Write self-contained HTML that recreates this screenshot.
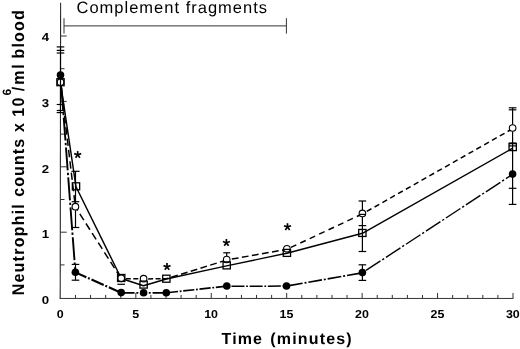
<!DOCTYPE html>
<html><head><meta charset="utf-8"><title>Neutrophil counts</title>
<style>html,body{margin:0;padding:0;background:#fff;}svg{display:block;will-change:transform;}text{text-rendering:geometricPrecision;font-family:"Liberation Sans",sans-serif;fill:#000;}</style>
</head><body>
<svg width="520" height="349" viewBox="0 0 520 349">
<rect width="520" height="349" fill="#fff"/>
<g stroke="#333" stroke-width="1" fill="none" stroke-linecap="butt">
<line x1="60.6" y1="2.8" x2="60.2" y2="298.95" stroke-width="1.1" stroke="#2a2a2a"/>
<line x1="59.8" y1="298.45" x2="513.3" y2="298.45"/>
<line x1="60.1" y1="264.9" x2="64.5" y2="264.9"/>
<line x1="60.1" y1="232.2" x2="66.7" y2="232.2"/>
<line x1="60.1" y1="199.5" x2="64.5" y2="199.5"/>
<line x1="60.1" y1="166.8" x2="66.7" y2="166.8"/>
<line x1="60.1" y1="134.1" x2="64.5" y2="134.1"/>
<line x1="60.1" y1="101.4" x2="66.7" y2="101.4"/>
<line x1="60.1" y1="68.7" x2="64.5" y2="68.7"/>
<line x1="60.1" y1="36" x2="66.7" y2="36"/>
<line x1="75.49" y1="298.45" x2="75.49" y2="294.95"/>
<line x1="90.57" y1="298.45" x2="90.57" y2="294.95"/>
<line x1="105.66" y1="298.45" x2="105.66" y2="294.95"/>
<line x1="120.75" y1="298.45" x2="120.75" y2="294.95"/>
<line x1="135.84" y1="298.45" x2="135.84" y2="292.95"/>
<line x1="150.92" y1="298.45" x2="150.92" y2="294.95"/>
<line x1="166.01" y1="298.45" x2="166.01" y2="294.95"/>
<line x1="181.1" y1="298.45" x2="181.1" y2="294.95"/>
<line x1="196.18" y1="298.45" x2="196.18" y2="294.95"/>
<line x1="211.27" y1="298.45" x2="211.27" y2="292.95"/>
<line x1="226.36" y1="298.45" x2="226.36" y2="294.95"/>
<line x1="241.44" y1="298.45" x2="241.44" y2="294.95"/>
<line x1="256.53" y1="298.45" x2="256.53" y2="294.95"/>
<line x1="271.62" y1="298.45" x2="271.62" y2="294.95"/>
<line x1="286.7" y1="298.45" x2="286.7" y2="292.95"/>
<line x1="301.79" y1="298.45" x2="301.79" y2="294.95"/>
<line x1="316.88" y1="298.45" x2="316.88" y2="294.95"/>
<line x1="331.97" y1="298.45" x2="331.97" y2="294.95"/>
<line x1="347.05" y1="298.45" x2="347.05" y2="294.95"/>
<line x1="362.14" y1="298.45" x2="362.14" y2="292.95"/>
<line x1="377.23" y1="298.45" x2="377.23" y2="294.95"/>
<line x1="392.31" y1="298.45" x2="392.31" y2="294.95"/>
<line x1="407.4" y1="298.45" x2="407.4" y2="294.95"/>
<line x1="422.49" y1="298.45" x2="422.49" y2="294.95"/>
<line x1="437.57" y1="298.45" x2="437.57" y2="292.95"/>
<line x1="452.66" y1="298.45" x2="452.66" y2="294.95"/>
<line x1="467.75" y1="298.45" x2="467.75" y2="294.95"/>
<line x1="482.84" y1="298.45" x2="482.84" y2="294.95"/>
<line x1="497.92" y1="298.45" x2="497.92" y2="294.95"/>
<line x1="513.01" y1="298.45" x2="513.01" y2="292.95"/>
<line x1="64" y1="25.9" x2="286.4" y2="25.9"/>
<line x1="64" y1="18.2" x2="64" y2="33.6"/>
<line x1="286.4" y1="18.2" x2="286.4" y2="33.6"/>
</g>
<g font-size="11.5" font-weight="bold" text-anchor="end">
<text transform="translate(49.2 303.7) scale(1.15 1)">0</text>
<text transform="translate(49.2 238.3) scale(1.15 1)">1</text>
<text transform="translate(49.2 173.0) scale(1.15 1)">2</text>
<text transform="translate(49.2 107.4) scale(1.15 1)">3</text>
<text transform="translate(49.2 41.1) scale(1.15 1)">4</text>
</g>
<g font-size="11.5" font-weight="bold" text-anchor="middle">
<text transform="translate(60.2 318.1) scale(1.08 1)">0</text>
<text transform="translate(135.64 318.1) scale(1.08 1)">5</text>
<text transform="translate(211.07 318.1) scale(1.08 1)">10</text>
<text transform="translate(286.5 318.1) scale(1.08 1)">15</text>
<text transform="translate(361.94 318.1) scale(1.08 1)">20</text>
<text transform="translate(437.38 318.1) scale(1.08 1)">25</text>
<text transform="translate(512.81 318.1) scale(1.08 1)">30</text>
</g>
<text x="76.5" y="13.2" font-size="16.5" textLength="190.5" lengthAdjust="spacing">Complement fragments</text>
<g font-size="16" font-weight="bold">
<text x="221.5" y="344.2" textLength="40.5" lengthAdjust="spacing">Time</text>
<text x="270.3" y="344.2" textLength="81.3" lengthAdjust="spacing">(minutes)</text>
</g>
<g font-weight="bold">
<text transform="translate(23.9 295.3) rotate(-90) scale(1 1.06)" font-size="16" textLength="91.1" lengthAdjust="spacing">Neutrophil</text>
<text transform="translate(23.9 196.8) rotate(-90) scale(1 1.06)" font-size="16" textLength="57.9" lengthAdjust="spacing">counts</text>
<text transform="translate(23.9 132) rotate(-90) scale(1 1.06)" font-size="16" textLength="9.25" lengthAdjust="spacing">x</text>
<text transform="translate(23.9 116.7) rotate(-90) scale(1 1.06)" font-size="16" textLength="19.2" lengthAdjust="spacing">10</text>
<text transform="translate(11.1 95.6) rotate(-90) scale(1 1.0)" font-size="12" textLength="7" lengthAdjust="spacing">6</text>
<text transform="translate(23.9 91.2) rotate(-90) scale(1 1.06)" font-size="16" textLength="27" lengthAdjust="spacing">/ml</text>
<text transform="translate(23.9 58.6) rotate(-90) scale(1 1.06)" font-size="16" textLength="48.4" lengthAdjust="spacing">blood</text>
</g>
<g fill="none" stroke="#000" stroke-linejoin="round">
<line x1="60.5" y1="75" x2="75.4" y2="272.4" stroke-width="1.9" stroke-dasharray="23 2.3 2.4 2.3" stroke-dashoffset="17.3"/>
<line x1="75.4" y1="272.4" x2="121.2" y2="292.8" stroke-width="2.1" stroke-dasharray="13.4 1.8 1.9 1.9" stroke-dashoffset="1.4"/>
<line x1="121.2" y1="292.8" x2="143.6" y2="292.9" stroke-width="1.8" stroke-dasharray="13.4 1.8 1.9 1.9" stroke-dashoffset="0"/>
<line x1="143.6" y1="292.9" x2="166.3" y2="292.8" stroke-width="1.8" stroke-dasharray="13.4 1.8 1.9 1.9" stroke-dashoffset="10"/>
<line x1="166.3" y1="292.8" x2="226.8" y2="286.2" stroke-width="1.7" stroke-dasharray="11.2 1.7 1.8 1.7" stroke-dashoffset="15.8"/>
<line x1="226.8" y1="286.2" x2="286.5" y2="286.1" stroke-width="1.5" stroke-dasharray="13 1.7 1.8 1.7" stroke-dashoffset="13.55"/>
<line x1="286.5" y1="286.1" x2="362.4" y2="272.8" stroke-width="1.7" stroke-dasharray="13.8 1.9 2 1.9" stroke-dashoffset="17"/>
<line x1="362.4" y1="272.8" x2="512.6" y2="174.3" stroke-width="1.4" stroke-dasharray="17.3 2.1 2.3 2.2" stroke-dashoffset="19.6"/>
<polyline points="60.5,82.5 76,186.8 121.3,278.5 143.5,285.7 166.35,279 226.6,265.9 286.9,253.2 362.4,233.3 512.7,148.2" stroke-width="1.45"/>
<line x1="60.5" y1="82" x2="75.4" y2="207" stroke-width="1.5" stroke-dasharray="7.4 4" stroke-dashoffset="0"/>
<line x1="75.4" y1="207" x2="121.3" y2="278.7" stroke-width="1.5" stroke-dasharray="7.4 4" stroke-dashoffset="3.2"/>
<line x1="121.3" y1="278.7" x2="143.6" y2="278.9" stroke-width="1.5" stroke-dasharray="5 2.5" stroke-dashoffset="3"/>
<line x1="143.6" y1="278.9" x2="166.3" y2="278.8" stroke-width="1.5" stroke-dasharray="5 2.5" stroke-dashoffset="3"/>
<line x1="166.3" y1="278.8" x2="226.7" y2="260" stroke-width="1.5" stroke-dasharray="6.8 3.4" stroke-dashoffset="5"/>
<line x1="226.7" y1="260" x2="286.9" y2="249.3" stroke-width="1.5" stroke-dasharray="6.8 3.4" stroke-dashoffset="5"/>
<line x1="286.9" y1="249.3" x2="362.4" y2="213.9" stroke-width="1.5" stroke-dasharray="6 4.4" stroke-dashoffset="6"/>
<line x1="362.4" y1="213.9" x2="512.6" y2="128.7" stroke-width="1.5" stroke-dasharray="5.4 3.6" stroke-dashoffset="4"/>
</g>
<g stroke="#000" stroke-width="1.1" fill="#fff">
<circle cx="60.5" cy="82.2" r="3.3"/>
<circle cx="75.4" cy="206.7" r="3.3"/>
<circle cx="121.2" cy="278.3" r="3.3"/>
<circle cx="143.6" cy="278.7" r="3.3"/>
<circle cx="226.7" cy="259.5" r="3.3"/>
<circle cx="286.9" cy="248.8" r="3.3"/>
<circle cx="362.4" cy="213.4" r="3.3"/>
<circle cx="512.6" cy="128" r="3.3"/>
</g>
<g stroke="#000" stroke-width="1.2" fill="none">
<line x1="60.5" y1="46.9" x2="60.5" y2="113"/>
<line x1="56.7" y1="46.9" x2="64.3" y2="46.9"/>
<line x1="56.7" y1="50.4" x2="64.3" y2="50.4"/>
<line x1="56.7" y1="53" x2="64.3" y2="53"/>
<line x1="56.7" y1="104.5" x2="64.3" y2="104.5"/>
<line x1="56.7" y1="110.5" x2="64.3" y2="110.5"/>
<line x1="56.7" y1="112.6" x2="64.3" y2="112.6"/>
<line x1="75.5" y1="171.3" x2="75.5" y2="203"/>
<line x1="75.5" y1="210.2" x2="75.5" y2="227.5"/>
<line x1="71.4" y1="171.3" x2="79.6" y2="171.3"/>
<line x1="71.7" y1="201.7" x2="79.3" y2="201.7"/>
<line x1="71.7" y1="227.5" x2="79.3" y2="227.5"/>
<line x1="75.5" y1="264.4" x2="75.5" y2="280.2"/>
<line x1="71.7" y1="264.4" x2="79.3" y2="264.4"/>
<line x1="71.7" y1="280.2" x2="79.3" y2="280.2"/>
<line x1="117.4" y1="284.3" x2="125" y2="284.3"/>
<line x1="226.7" y1="252.8" x2="226.7" y2="256"/>
<line x1="223.2" y1="252.8" x2="230.2" y2="252.8"/>
<line x1="362.4" y1="201" x2="362.4" y2="209.9"/>
<line x1="362.4" y1="216.9" x2="362.4" y2="251.5"/>
<line x1="358.6" y1="201" x2="366.2" y2="201"/>
<line x1="359.4" y1="214.4" x2="365.4" y2="214.4"/>
<line x1="358.6" y1="225.6" x2="366.2" y2="225.6"/>
<line x1="358.6" y1="251.5" x2="366.2" y2="251.5"/>
<line x1="362.4" y1="264.8" x2="362.4" y2="280.4"/>
<line x1="358.6" y1="264.8" x2="366.2" y2="264.8"/>
<line x1="358.6" y1="280.4" x2="366.2" y2="280.4"/>
<line x1="512.6" y1="107.8" x2="512.6" y2="124.5"/>
<line x1="512.6" y1="131.5" x2="512.6" y2="204.4"/>
<line x1="508.8" y1="107.8" x2="516.4" y2="107.8"/>
<line x1="508.8" y1="109.8" x2="516.4" y2="109.8"/>
<line x1="508.8" y1="145.9" x2="516.4" y2="145.9"/>
<line x1="508.8" y1="188.3" x2="516.4" y2="188.3"/>
<line x1="508.8" y1="204.4" x2="516.4" y2="204.4"/>
<line x1="508.8" y1="143" x2="516.4" y2="143"/>
</g>
<g stroke="#000" stroke-width="1.3" fill="none">
<rect x="56.85" y="78.7" width="7.3" height="7.0"/>
<rect x="72.35" y="182.8" width="7.3" height="7.0"/>
<rect x="117.55" y="274.5" width="7.3" height="7.0"/>
<rect x="139.95" y="281.1" width="7.3" height="7.0"/>
<rect x="162.7" y="275.2" width="7.3" height="7.0"/>
<rect x="223.05" y="261.9" width="7.3" height="7.0"/>
<rect x="283.25" y="249.4" width="7.3" height="7.0"/>
<rect x="358.7" y="229.45" width="7.3" height="7.0"/>
<rect x="509.05" y="143.6" width="7.3" height="7.0"/>
</g>
<g fill="#000">
<circle cx="60.5" cy="75" r="3.8"/>
<circle cx="75.4" cy="272.2" r="3.8"/>
<circle cx="121.2" cy="292.6" r="3.8"/>
<circle cx="143.6" cy="292.8" r="3.8"/>
<circle cx="166.3" cy="292.7" r="3.8"/>
<circle cx="226.8" cy="286" r="3.8"/>
<circle cx="286.5" cy="286" r="3.8"/>
<circle cx="362.4" cy="272.6" r="3.8"/>
<circle cx="512.6" cy="174.1" r="3.8"/>
</g>
<g stroke="#000" stroke-width="1.7" stroke-linecap="butt">
<line x1="77.7" y1="154.8" x2="77.7" y2="151.1"/>
<line x1="77.7" y1="154.8" x2="81.22" y2="153.66"/>
<line x1="77.7" y1="154.8" x2="79.87" y2="157.79"/>
<line x1="77.7" y1="154.8" x2="75.53" y2="157.79"/>
<line x1="77.7" y1="154.8" x2="74.18" y2="153.66"/>
<line x1="167" y1="266.8" x2="167" y2="263.1"/>
<line x1="167" y1="266.8" x2="170.52" y2="265.66"/>
<line x1="167" y1="266.8" x2="169.17" y2="269.79"/>
<line x1="167" y1="266.8" x2="164.83" y2="269.79"/>
<line x1="167" y1="266.8" x2="163.48" y2="265.66"/>
<line x1="226.4" y1="242.7" x2="226.4" y2="239"/>
<line x1="226.4" y1="242.7" x2="229.92" y2="241.56"/>
<line x1="226.4" y1="242.7" x2="228.57" y2="245.69"/>
<line x1="226.4" y1="242.7" x2="224.23" y2="245.69"/>
<line x1="226.4" y1="242.7" x2="222.88" y2="241.56"/>
<line x1="287.5" y1="226.9" x2="287.5" y2="223.2"/>
<line x1="287.5" y1="226.9" x2="291.02" y2="225.76"/>
<line x1="287.5" y1="226.9" x2="289.67" y2="229.89"/>
<line x1="287.5" y1="226.9" x2="285.33" y2="229.89"/>
<line x1="287.5" y1="226.9" x2="283.98" y2="225.76"/>
</g>
</svg>
</body></html>
